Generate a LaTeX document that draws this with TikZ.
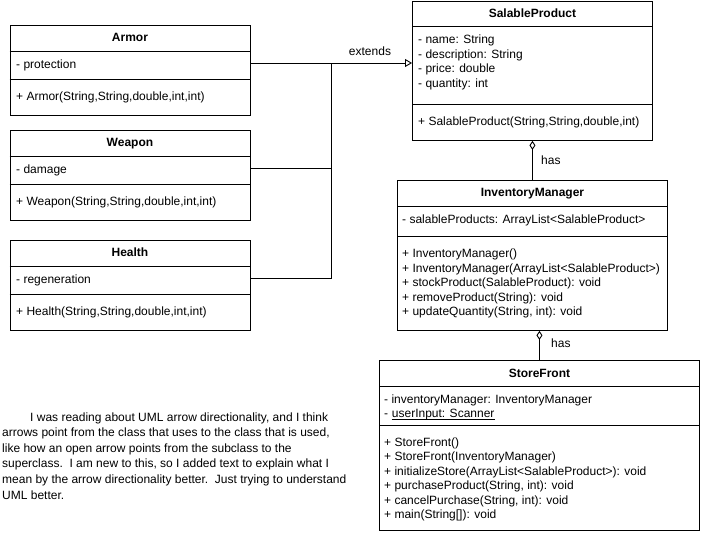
\documentclass[tikz,border=0pt]{standalone}
\usepackage{fontspec}
\setmainfont{Liberation Sans}
\usetikzlibrary{arrows.meta}
\begin{document}
\begin{tikzpicture}[x=1pt,y=-1pt,
  cls/.style={draw, line width=0.9pt, inner sep=0pt, anchor=north west},
  sepline/.style={line width=0.9pt},
  conn/.style={line width=0.9pt},
  txt/.style={anchor=west, inner sep=0pt, text height=9pt, text depth=1pt, font=\fontsize{12}{14}\selectfont},
  ttl/.style={anchor=center, inner sep=0pt, text height=9pt, text depth=1pt, font=\fontsize{12}{14}\selectfont\bfseries},
  lbl/.style={inner sep=0pt, text height=9pt, text depth=1pt, font=\fontsize{12}{14}\selectfont},
  genarrow/.style={-{Triangle[open,length=7pt,width=8pt]}},
  aggr/.style={{Diamond[open,length=9pt,width=6pt]}-}
]
\useasboundingbox (0,0) rectangle (701,534);

% Armor
\node[cls, minimum width=240pt, minimum height=90pt] (armor) at (9.5,25) {};
\draw[sepline] (armor.west |- 0,51) -- (armor.east |- 0,51);
\draw[sepline] (armor.west |- 0,79) -- (armor.east |- 0,79);
\node[ttl] (armorT) at (armor.north |- 0,38) {Armor};
\node[txt] (armorA) at (16,65) {- protection};
\node[txt] (armorM) at (16,97) {+ Armor(String,String,double,int,int)};

% Weapon
\node[cls, minimum width=240pt, minimum height=90pt] (weapon) at (9.5,130) {};
\draw[sepline] (weapon.west |- 0,156) -- (weapon.east |- 0,156);
\draw[sepline] (weapon.west |- 0,184) -- (weapon.east |- 0,184);
\node[ttl] (weaponT) at (weapon.north |- 0,143) {Weapon};
\node[txt] (weaponA) at (16,170) {- damage};
\node[txt] (weaponM) at (16,202) {+ Weapon(String,String,double,int,int)};

% Health
\node[cls, minimum width=240pt, minimum height=90pt] (health) at (9.5,240) {};
\draw[sepline] (health.west |- 0,266) -- (health.east |- 0,266);
\draw[sepline] (health.west |- 0,294) -- (health.east |- 0,294);
\node[ttl] (healthT) at (health.north |- 0,253) {Health};
\node[txt] (healthA) at (16,280) {- regeneration};
\node[txt] (healthM) at (16,312) {+ Health(String,String,double,int,int)};

% SalableProduct
\node[cls, minimum width=240pt, minimum height=139pt] (sp) at (412,1) {};
\draw[sepline] (sp.west |- 0,26) -- (sp.east |- 0,26);
\draw[sepline] (sp.west |- 0,104) -- (sp.east |- 0,104);
\node[ttl] (spT) at (sp.north |- 0,14) {SalableProduct};
\node[txt] (spA1) at (418,40) {- name: String};
\node[txt] (spA2) at (418,54.5) {- description: String};
\node[txt] (spA3) at (418,69) {- price: double};
\node[txt] (spA4) at (418,83.5) {- quantity: int};
\node[txt] (spM1) at (418,122) {+ SalableProduct(String,String,double,int)};

% InventoryManager
\node[cls, minimum width=270pt, minimum height=150pt] (im) at (397,180) {};
\draw[sepline] (im.west |- 0,206) -- (im.east |- 0,206);
\draw[sepline] (im.west |- 0,236) -- (im.east |- 0,236);
\node[ttl] (imT) at (im.north |- 0,193) {InventoryManager};
\node[txt] (imA1) at (402,220) {- salableProducts: ArrayList<SalableProduct>};
\node[txt] (imM1) at (402,254) {+ InventoryManager()};
\node[txt] (imM2) at (402,268.5) {+ InventoryManager(ArrayList<SalableProduct>)};
\node[txt] (imM3) at (402,283) {+ stockProduct(SalableProduct): void};
\node[txt] (imM4) at (402,297.5) {+ removeProduct(String): void};
\node[txt] (imM5) at (402,312) {+ updateQuantity(String, int): void};

% StoreFront
\node[cls, minimum width=320pt, minimum height=170pt] (sf) at (379,360) {};
\draw[sepline] (sf.west |- 0,386) -- (sf.east |- 0,386);
\draw[sepline] (sf.west |- 0,425) -- (sf.east |- 0,425);
\node[ttl] (sfT) at (sf.north |- 0,373) {StoreFront};
\node[txt] (sfA1) at (384,399) {- inventoryManager: InventoryManager};
\node[txt] (sfA2) at (384,413.5) {-\hspace*{3.34pt}};
\node[txt] (sfA2u) at (sfA2.east) {userInput: Scanner};
\draw[line width=0.7pt] ([yshift=-0.6pt]sfA2u.south west) -- ([yshift=-0.6pt]sfA2u.south east);
\node[txt] (sfM1) at (384,442) {+ StoreFront()};
\node[txt] (sfM2) at (384,456.5) {+ StoreFront(InventoryManager)};
\node[txt] (sfM3) at (384,471) {+ initializeStore(ArrayList<SalableProduct>): void};
\node[txt] (sfM4) at (384,485.5) {+ purchaseProduct(String, int): void};
\node[txt] (sfM5) at (384,500) {+ cancelPurchase(String, int): void};
\node[txt] (sfM6) at (384,514.5) {+ main(String[]): void};

% Generalisation connectors
\coordinate (j) at (331,63);
\draw[conn, genarrow] (armor.east |- j) -- (sp.west |- j);
\draw[conn] (weapon.east |- 0,168) -| (j);
\draw[conn] (health.east |- 0,278) -| (j);
\node[lbl] (ext) at (370,52) {extends};

% Aggregation connectors
\draw[conn, aggr] (sp.south) -- (im.north);
\node[lbl, anchor=west] (has1) at (541,161) {has};
\draw[conn, aggr] (im.south -| sf.north) -- (sf.north);
\node[lbl, anchor=west] (has2) at (551,344) {has};

% Explanatory text
\node[txt] (p1) at (30,417) {I was reading about UML arrow directionality, and I think};
\node[txt] (p2) at (2,432.6) {arrows point from the class that uses to the class that is used,};
\node[txt] (p3) at (2,448.2) {like how an open arrow points from the subclass to the};
\node[txt] (p4) at (2,463.8) {superclass.\ \ I am new to this, so I added text to explain what I};
\node[txt] (p5) at (2,479.4) {mean by the arrow directionality better.\ \ Just trying to understand};
\node[txt] (p6) at (2,495) {UML better.};
\end{tikzpicture}
\end{document}
